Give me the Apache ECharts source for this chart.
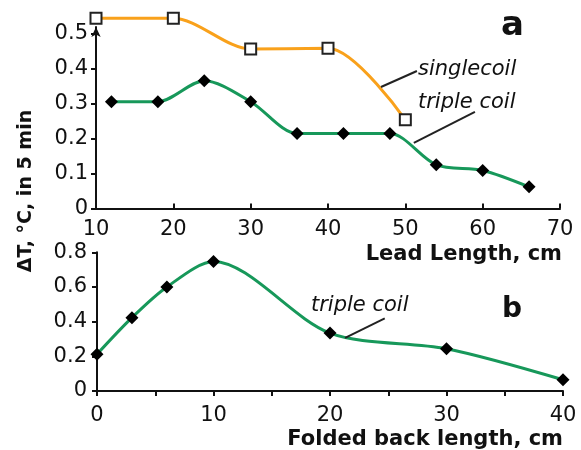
<!DOCTYPE html>
<html><head><meta charset="utf-8">
<script src="https://cdn.jsdelivr.net/npm/echarts@6/dist/echarts.min.js"></script>
<style>html,body{margin:0;padding:0;background:#fff}#c{width:581px;height:450px}</style>
</head><body><div id="c"></div>
<script>
// Panel a: Lead length
const singleX = [10, 20, 30, 40, 50];
const singleY = [0.545, 0.545, 0.457, 0.459, 0.254];
const tripleAX = [12, 18, 24, 30, 36, 42, 48, 54, 60, 66];
const tripleAY = [0.306, 0.306, 0.366, 0.306, 0.215, 0.215, 0.215, 0.125, 0.109, 0.062];
const aYTicks = [0, 0.1, 0.2, 0.3, 0.4, 0.5];
// Panel b: Folded back length
const tripleBX = [0, 3, 6, 10, 20, 30, 40];
const tripleBY = [0.212, 0.423, 0.60, 0.747, 0.334, 0.244, 0.065];
const bXLabels = [0, 10, 20, 30, 40];

const FONT = '"DejaVu Sans", Verdana, sans-serif';
const ORANGE = '#F9A11B';
const GREEN = '#17985A';
const pair = (xs, ys) => xs.map((x, i) => [x, ys[i]]);

const chart = echarts.init(document.getElementById('c'));
const axisLine = {lineStyle: {color: '#111', width: 2}};
const lab = {color: '#111', fontSize: 21, fontFamily: FONT};

chart.setOption({
  animation: false,
  grid: [
    {left: 96, right: 21, top: 27, height: 181.5},
    {left: 97, right: 18, top: 252.3, height: 142}
  ],
  xAxis: [
    {type: 'value', gridIndex: 0, min: 10, max: 70, interval: 10,
     axisLine: axisLine, splitLine: {show: false},
     axisTick: {show: true, inside: true, length: 5, lineStyle: {color: '#111', width: 2}},
     axisLabel: Object.assign({margin: 11}, lab),
     name: 'Lead Length, cm', nameLocation: 'end',
     nameTextStyle: {color: '#111', fontSize: 21, fontWeight: 'bold', fontFamily: FONT, align: 'right', verticalAlign: 'top', padding: [36, 0, 0, 0]},
     nameGap: 2},
    {type: 'value', gridIndex: 1, min: 0, max: 40, interval: 5,
     axisLine: axisLine, splitLine: {show: false},
     axisTick: {show: true, length: 5, lineStyle: {color: '#111', width: 2}},
     axisLabel: Object.assign({margin: 14, customValues: bXLabels}, lab),
     name: 'Folded back length, cm', nameLocation: 'end',
     nameTextStyle: {color: '#111', fontSize: 21, fontWeight: 'bold', fontFamily: FONT, align: 'right', verticalAlign: 'top', padding: [38, 0, 0, 0]},
     nameGap: 0}
  ],
  yAxis: [
    {type: 'value', gridIndex: 0, min: 0, max: 0.52,
     axisLine: Object.assign({show: true, symbol: ['none', 'arrow'], symbolSize: [7, 10]}, axisLine),
     splitLine: {show: false},
     axisTick: {show: true, length: 5, customValues: aYTicks, lineStyle: {color: '#111', width: 2}},
     axisLabel: Object.assign({margin: 8, customValues: aYTicks, formatter: v => String(+v.toFixed(1))}, lab)},
    {type: 'value', gridIndex: 1, min: 0, max: 0.8, interval: 0.2,
     axisLine: Object.assign({show: true}, axisLine),
     splitLine: {show: false},
     axisTick: {show: true, length: 5, lineStyle: {color: '#111', width: 2}},
     axisLabel: Object.assign({margin: 10, formatter: v => String(+v.toFixed(1))}, lab)}
  ],
  series: [
    {type: 'line', xAxisIndex: 0, yAxisIndex: 0, data: pair(singleX, singleY), smooth: 0.3, clip: false,
     lineStyle: {color: ORANGE, width: 3}, symbol: 'rect', symbolSize: 11,
     itemStyle: {color: '#fff', borderColor: '#222', borderWidth: 2}, z: 3,
     markLine: {silent: true, symbol: 'none', label: {show: false}, lineStyle: {color: '#222', width: 2, type: 'solid'},
       data: [[{coord: [46.85, 0.348]}, {coord: [51.5, 0.394]}], [{coord: [51.1, 0.188]}, {coord: [59.0, 0.277]}]]}},
    {type: 'line', xAxisIndex: 0, yAxisIndex: 0, data: pair(tripleAX, tripleAY), smooth: 0.3, clip: false,
     lineStyle: {color: GREEN, width: 3}, symbol: 'diamond', symbolSize: 13,
     itemStyle: {color: '#000', borderColor: '#000', borderWidth: 0}, z: 3},
    {type: 'line', xAxisIndex: 1, yAxisIndex: 1, data: pair(tripleBX, tripleBY), smooth: 0.3, clip: false,
     lineStyle: {color: GREEN, width: 3}, symbol: 'diamond', symbolSize: 13,
     itemStyle: {color: '#000', borderColor: '#000', borderWidth: 0}, z: 3,
     markLine: {silent: true, symbol: 'none', label: {show: false}, lineStyle: {color: '#222', width: 2, type: 'solid'},
       data: [[{coord: [21.3, 0.306]}, {coord: [24.7, 0.419]}]]}}
  ],
  graphic: [
    {type: 'text', left: 501, top: 9, style: {text: 'a', font: 'bold 34px ' + FONT, fill: '#111'}},
    {type: 'text', left: 502, top: 296, style: {text: 'b', font: 'bold 28px ' + FONT, fill: '#111'}},
    {type: 'text', left: 418, top: 59, style: {text: 'singlecoil', font: 'italic 21px ' + FONT, fill: '#111'}},
    {type: 'text', left: 418, top: 92, style: {text: 'triple coil', font: 'italic 21px ' + FONT, fill: '#111'}},
    {type: 'text', left: 311, top: 295, style: {text: 'triple coil', font: 'italic 21px ' + FONT, fill: '#111'}},
    {type: 'text', x: 26, y: 191, rotation: Math.PI / 2,
     style: {text: 'ΔT, °C, in 5 min', font: 'bold 19px ' + FONT, fill: '#111', align: 'center', verticalAlign: 'middle'}}
  ]
});
</script></body></html>
